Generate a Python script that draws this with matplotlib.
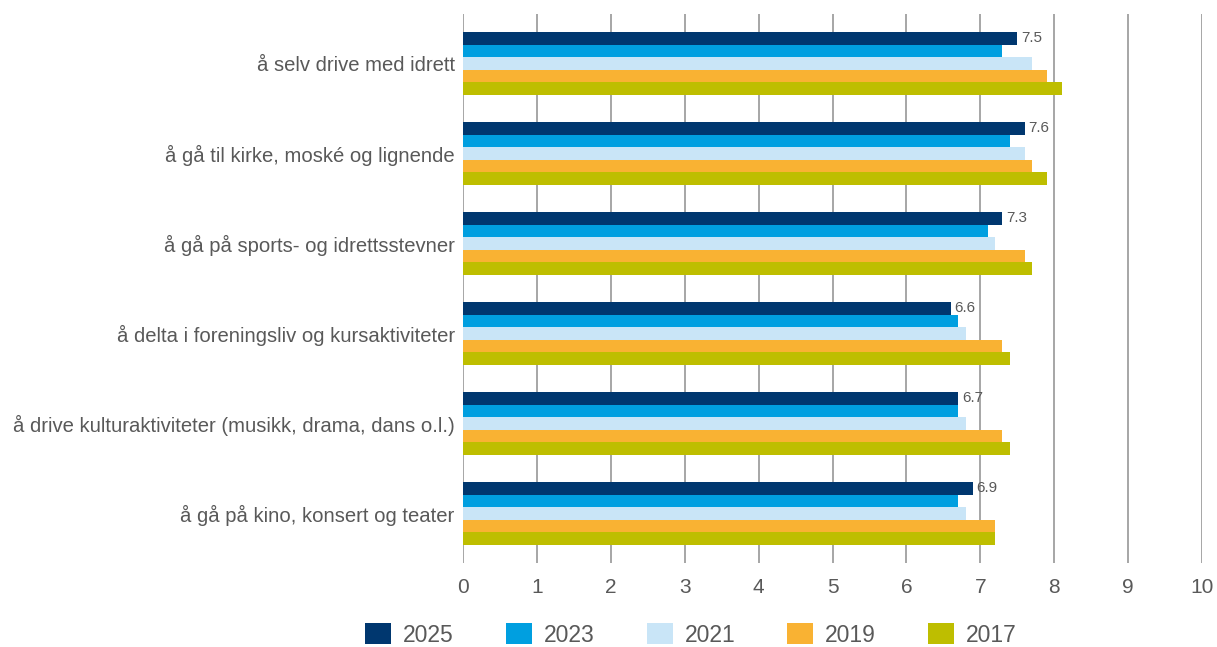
import matplotlib.pyplot as plt
import numpy as np

plt.rcParams['font.family'] = ['Liberation Sans', 'DejaVu Sans']

# Data
categories = [
    "å selv drive med idrett",
    "å gå til kirke, moské og lignende",
    "å gå på sports- og idrettsstevner",
    "å delta i foreningsliv og kursaktiviteter",
    "å drive kulturaktiviteter (musikk, drama, dans o.l.)",
    "å gå på kino, konsert og teater",
]
years = ["2025", "2023", "2021", "2019", "2017"]
v2025 = [7.5, 7.6, 7.3, 6.6, 6.7, 6.9]
v2023 = [7.3, 7.4, 7.1, 6.7, 6.7, 6.7]
v2021 = [7.7, 7.6, 7.2, 6.8, 6.8, 6.8]
v2019 = [7.9, 7.7, 7.6, 7.3, 7.3, 7.2]
v2017 = [8.1, 7.9, 7.7, 7.4, 7.4, 7.2]
series = [v2025, v2023, v2021, v2019, v2017]
colors = ["#00376F", "#009FE0", "#C9E5F7", "#F9B233", "#BEBE00"]

text_col = "#595959"
grid_col = "#A6A6A6"

fig = plt.figure(figsize=(12.17, 6.47), dpi=100)
ax = fig.add_axes([463 / 1217, 1 - 563 / 647, (1202 - 463) / 1217, (563 - 14) / 647])

y = np.arange(len(categories))
h = 0.14
for i, (vals, col, yr) in enumerate(zip(series, colors, years)):
    pos = y - 0.28 + i * h
    bars = ax.barh(pos, vals, height=h, color=col, label=yr, zorder=3)
    if yr == "2025":
        # only the newest year gets value labels
        for b, v in zip(bars, vals):
            ax.text(v + 0.05, b.get_y() + b.get_height() / 2, f"{v}",
                    va="center", ha="left", fontsize=11, color=text_col, zorder=4)

ax.set_xlim(0, 10)
ax.set_ylim(5.55, -0.55)
ax.set_xticks(range(11))
ax.set_yticks(y)
ax.set_yticklabels(categories, fontsize=14.6, color=text_col)
ax.tick_params(axis="y", length=0, pad=6)
ax.tick_params(axis="x", length=0, pad=11, labelsize=15, labelcolor=text_col)
ax.grid(axis="x", color=grid_col, linewidth=1.4, zorder=0)
for s in ax.spines.values():
    s.set_visible(False)

fig.legend(loc="center", bbox_to_anchor=(691 / 1217, 1 - 635 / 647), ncol=5,
           frameon=False, fontsize=16.5, labelcolor=text_col,
           handlelength=1.13, handleheight=1.0, handletextpad=0.52, columnspacing=2.27,
           borderaxespad=0, borderpad=0)

fig.savefig("out.png", dpi=100)
